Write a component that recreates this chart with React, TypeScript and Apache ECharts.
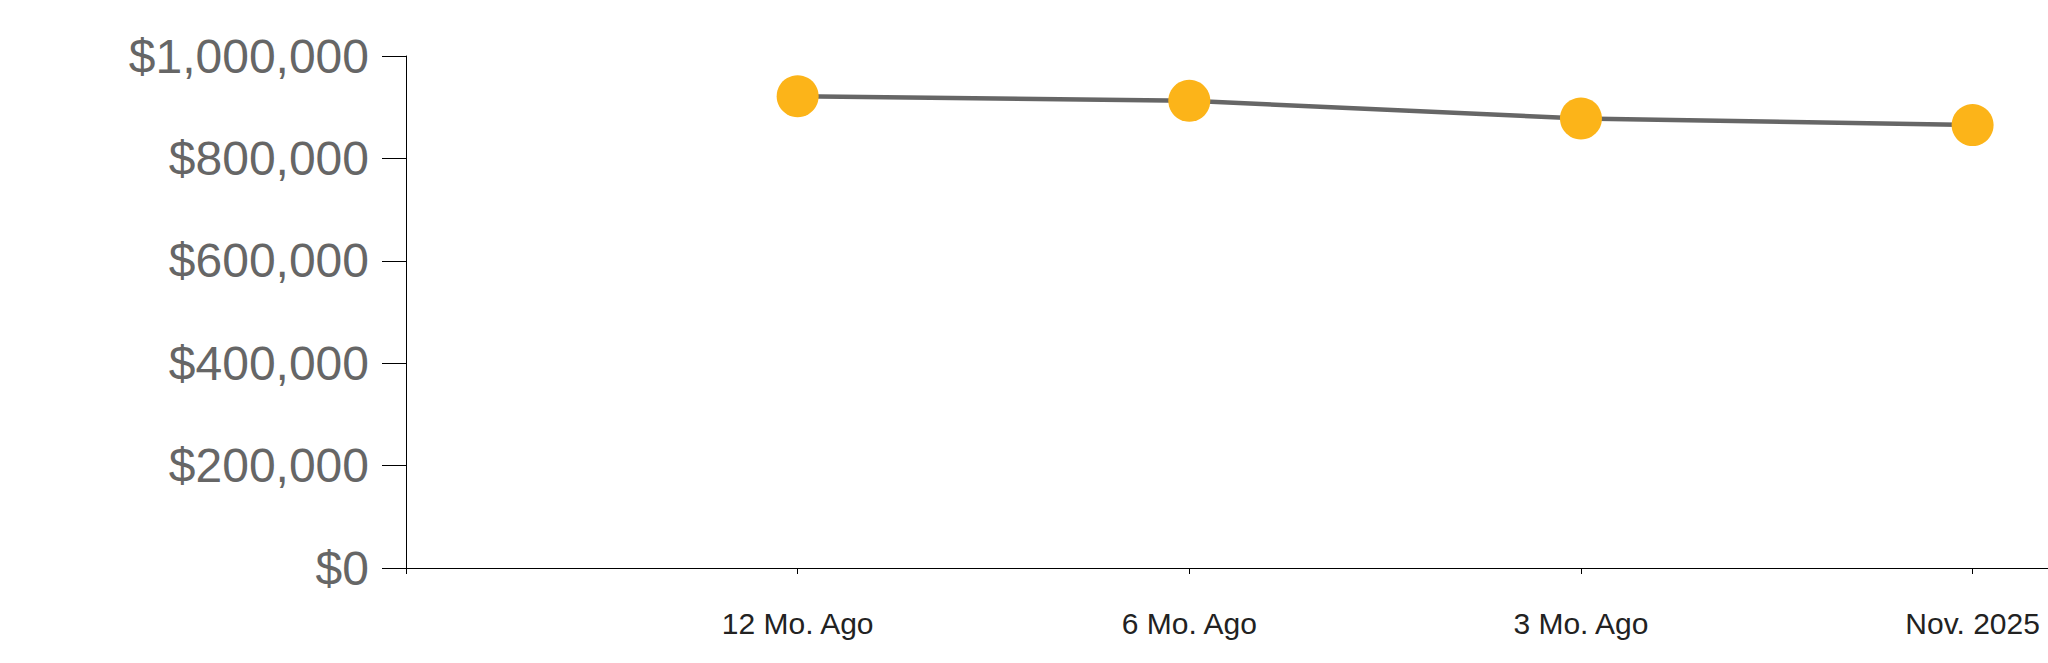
import React, { useEffect, useRef } from "react";
import * as echarts from "echarts";

const categories: string[] = ["12 Mo. Ago", "6 Mo. Ago", "3 Mo. Ago", "Nov. 2025"];
const values: number[] = [921500, 912500, 878000, 865000];
const yTicks = { min: 0, max: 1000000, interval: 200000 };

export default function App() {
  const ref = useRef<HTMLDivElement>(null);
  useEffect(() => {
    if (!ref.current) return;
    const chart = echarts.init(ref.current, undefined, { renderer: "svg" });
    const gridLeft = 406;
    const step = 391.65;
    const xMax = (2048 - gridLeft) / step;
    const tickPositions = [0, ...categories.map((_, i) => i + 1)];
    chart.setOption({
      animation: false,
      backgroundColor: "#ffffff",
      grid: { left: gridLeft, right: 0, top: 56, bottom: 95, containLabel: false },
      xAxis: {
        type: "value",
        min: 0,
        max: xMax,
        interval: 1,
        splitLine: { show: false },
        axisLine: { show: true, lineStyle: { color: "#000", width: 1 } },
        axisTick: {
          show: true,
          length: 6,
          customValues: tickPositions,
          lineStyle: { color: "#000", width: 1 },
        },
        axisLabel: {
          show: true,
          margin: 40,
          fontSize: 30,
          color: "#222",
          fontFamily: "Liberation Sans, Arial, sans-serif",
          customValues: categories.map((_, i) => i + 1),
          formatter: (v: number) => {
            const i = Math.round(v);
            if (Math.abs(v - i) > 1e-6 || i < 1 || i > categories.length) return "";
            return categories[i - 1];
          },
        },
      },
      yAxis: {
        type: "value",
        min: yTicks.min,
        max: yTicks.max,
        interval: yTicks.interval,
        splitLine: { show: false },
        axisLine: { show: true, lineStyle: { color: "#000", width: 1 } },
        axisTick: { show: true, length: 24, lineStyle: { color: "#000", width: 1 } },
        axisLabel: {
          margin: 37,
          fontSize: 48,
          color: "#666666",
          fontFamily: "Liberation Sans, Arial, sans-serif",
          formatter: (v: number) => "$" + v.toLocaleString("en-US"),
        },
      },
      series: [
        {
          type: "line",
          data: values.map((v, i) => [i + 1, v]),
          symbol: "circle",
          symbolSize: 42,
          lineStyle: { color: "#666666", width: 4.5 },
          itemStyle: { color: "#FCB419" },
          z: 3,
        },
      ],
    });
    return () => chart.dispose();
  }, []);
  return (
    <div
      ref={ref}
      style={{ position: "fixed", left: 0, top: 0, width: 2048, height: 663, background: "#fff" }}
    />
  );
}
